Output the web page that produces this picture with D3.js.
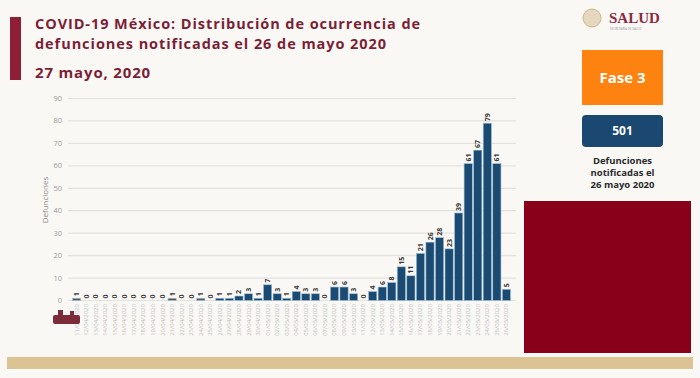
<!DOCTYPE html>
<html><head><meta charset="utf-8">
<script src="https://cdn.jsdelivr.net/npm/d3@7"></script>
<style>html,body{margin:0;padding:0;background:#faf8f5;}svg{display:block;}</style>
</head><body>
<svg id="c" width="700" height="378"></svg>
<script>
const dates = (function(){const out=[];const d=new Date(2020,3,11);for(let i=0;i<46;i++){const x=new Date(d.getTime()+i*86400000);out.push(String(x.getDate()).padStart(2,'0')+'/'+String(x.getMonth()+1).padStart(2,'0')+'/2020');}return out;})();
const values = [1,0,0,0,0,0,0,0,0,0,1,0,0,1,0,1,1,2,3,1,7,3,1,4,3,3,0,6,6,3,0,4,6,8,15,11,21,26,28,23,39,61,67,79,61,5];
const yTicks = [0,10,20,30,40,50,60,70,80,90];
const titleLines = ["COVID-19 México: Distribución de ocurrencia de","defunciones notificadas el 26 de mayo 2020"];
const subtitle = "27 mayo, 2020";
const totalLabel = "501";
const phaseLabel = "Fase 3";
const noteLines = ["Defunciones","notificadas el","26 mayo 2020"];

const svg = d3.select('#c');
const F = "'Open Sans', 'Noto Sans', sans-serif";

// background
svg.append('rect').attr('width',700).attr('height',378).attr('fill','#faf8f5');
svg.append('rect').attr('x',7).attr('y',357).attr('width',686).attr('height',12).attr('fill','#dcc393');

// title block
svg.append('rect').attr('x',10).attr('y',17).attr('width',11).attr('height',63).attr('fill','#8e1f37');
const tcol = '#7a1f36';
function fitText(sel, w){const n=sel.text().length; const l=sel.node().getComputedTextLength(); if(l>0){sel.attr('letter-spacing', (w-l)/n);} }
const t1 = svg.append('text').attr('x',35).attr('y',29).attr('font-family',F).attr('font-weight',700).attr('font-size',14.5).attr('fill',tcol).text(titleLines[0]);
fitText(t1, 386);
const t2 = svg.append('text').attr('x',35).attr('y',49).attr('font-family',F).attr('font-weight',700).attr('font-size',14.5).attr('fill',tcol).text(titleLines[1]);
fitText(t2, 352);
const t3 = svg.append('text').attr('x',35).attr('y',78).attr('font-family',F).attr('font-weight',700).attr('font-size',15).attr('fill',tcol).text(subtitle);
fitText(t3, 116);

// chart
const x = d3.scaleBand().domain(dates).range([72,511]).paddingInner(0.14).paddingOuter(0.05);
const y = d3.scaleLinear().domain([0,90]).range([300.5,98.5]);

const g = svg.append('g');
g.selectAll('line.grid').data(yTicks).join('line').attr('class','grid')
  .attr('x1',68).attr('x2',516).attr('y1',d=>y(d)).attr('y2',d=>y(d))
  .attr('stroke','#e3e1de').attr('stroke-width',1.2);
g.selectAll('text.yt').data(yTicks).join('text').attr('class','yt')
  .attr('x',62).attr('y',d=>y(d)+2.5).attr('text-anchor','end')
  .attr('font-family',F).attr('font-size',7.5).attr('fill','#9a9a9a').text(d=>d);
svg.append('text').attr('transform','translate(48,200) rotate(-90)').attr('text-anchor','middle')
  .attr('font-family',F).attr('font-size',8).attr('fill','#8a8a8a').text('Defunciones');

const data = dates.map((d,i)=>({d, v:values[i], i}));
g.selectAll('rect.bar').data(data).join('rect').attr('class','bar')
  .attr('x',d=>x(d.d)).attr('width',x.bandwidth())
  .attr('y',d=>y(d.v)).attr('height',d=>y(0)-y(d.v))
  .attr('fill',d=>d.i<=13?'#555a60':'#1b4b73')
  .attr('stroke',d=>d.v>0?'#9fc0d8':'none').attr('stroke-width',0.6);
g.selectAll('text.vl').data(data).join('text').attr('class','vl')
  .attr('transform',d=>`translate(${x(d.d)+x.bandwidth()/2+2.5},${y(d.v)-2}) rotate(-90)`)
  .attr('font-family',F).attr('font-weight',700).attr('font-size',7).attr('fill','#3a3a3a').text(d=>d.v);
g.selectAll('text.xl').data(data).join('text').attr('class','xl')
  .attr('transform',d=>`translate(${x(d.d)+x.bandwidth()/2+2},${304}) rotate(-90)`)
  .attr('text-anchor','end').attr('font-family',F).attr('font-size',6).attr('fill','#bdbdbd').text(d=>d.d);

// decorative bottom-left emblem
const em = svg.append('g').attr('fill','#7d2a3a');
em.append('rect').attr('x',53).attr('y',315).attr('width',27).attr('height',9).attr('rx',2);
em.append('rect').attr('x',58).attr('y',310).attr('width',5).attr('height',6);
em.append('rect').attr('x',70).attr('y',311).attr('width',4).attr('height',5);

// right panel
svg.append('circle').attr('cx',592).attr('cy',18).attr('r',9).attr('fill','#e6d8bf').attr('stroke','#cdb68c').attr('stroke-width',1);
svg.append('text').attr('x',609).attr('y',23).attr('font-family','"Liberation Serif", serif').attr('font-weight',700).attr('font-size',15).attr('fill','#8a2b44').text('SALUD');
svg.append('text').attr('x',610).attr('y',30).attr('font-family',F).attr('font-size',3).attr('fill','#999').text('SECRETARÍA DE SALUD');

svg.append('rect').attr('x',582).attr('y',50).attr('width',81).attr('height',55).attr('fill','#fd8210');
svg.append('text').attr('x',622.5).attr('y',83).attr('text-anchor','middle').attr('font-family',F).attr('font-weight',700).attr('font-size',15).attr('fill','#ffffff').text(phaseLabel);
svg.append('rect').attr('x',582).attr('y',115).attr('width',81).attr('height',32).attr('rx',4).attr('fill','#1b4870');
svg.append('text').attr('x',622.5).attr('y',135).attr('text-anchor','middle').attr('font-family',F).attr('font-weight',700).attr('font-size',12).attr('fill','#ffffff').text(totalLabel);
noteLines.forEach((l,i)=>svg.append('text').attr('x',622.5).attr('y',164+i*12).attr('text-anchor','middle').attr('font-family',F).attr('font-weight',700).attr('font-size',9.5).attr('fill','#2a2a2a').text(l));
svg.append('rect').attr('x',524).attr('y',201).attr('width',167).attr('height',152).attr('fill','#88001a');
</script>
</body></html>
